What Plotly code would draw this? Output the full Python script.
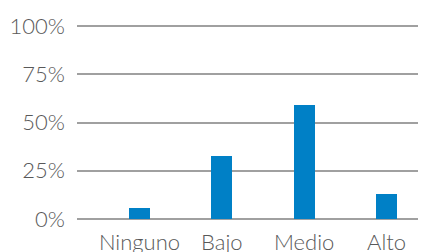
import plotly.graph_objects as go

categories = ["Ninguno", "Bajo", "Medio", "Alto"]
values = [0.059, 0.329, 0.589, 0.13]
y_ticks = [0, 0.25, 0.5, 0.75, 1.0]
y_tick_labels = ["0%", "25%", "50%", "75%", "100%"]

fig = go.Figure(go.Bar(x=list(range(len(categories))), y=values,
                       marker=dict(color="#0080C6", line=dict(width=0)),
                       width=0.255))

font = dict(family="Lato", size=22, color="#595959", weight=300)

# page body has an 8px default margin, so the figure is offset by 8px
fig.update_layout(
    width=418, height=244,
    margin=dict(l=69, r=0, t=16, b=31, autoexpand=False),
    paper_bgcolor="white", plot_bgcolor="white",
    showlegend=False,
    font=font,
    bargap=0,
)
fig.update_xaxes(range=[-0.758, 3.479], tickmode="array",
                 tickvals=list(range(len(categories))), ticktext=categories,
                 showgrid=False, zeroline=False, showline=False, ticks="",
                 ticklabelstandoff=6,
                 tickfont=font, automargin=False)
fig.update_yaxes(range=[-0.01, 1.01], tickmode="array", tickvals=y_ticks,
                 ticktext=y_tick_labels, showgrid=True, gridcolor="#A0A0A0",
                 gridwidth=2, zeroline=False, showline=False, ticks="",
                 ticklabelstandoff=11, tickfont=font, automargin=False)

fig.write_html("out.html")
